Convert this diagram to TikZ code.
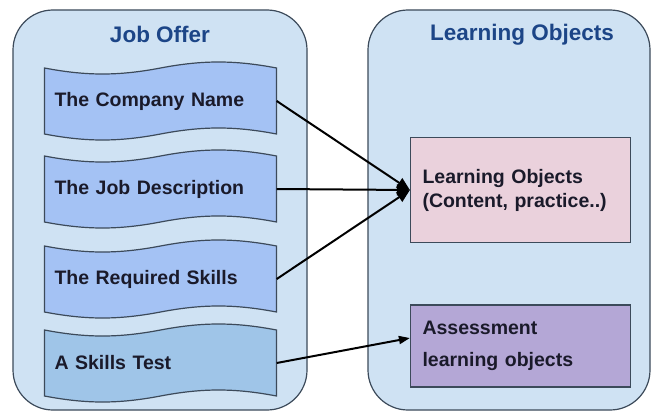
\documentclass[tikz,border=0pt]{standalone}
\usepackage{fontspec}
\setmainfont{Liberation Sans}
\usetikzlibrary{arrows.meta}
\definecolor{contfill}{HTML}{CFE2F3}
\definecolor{contdraw}{HTML}{3C4A5A}
\definecolor{tapeA}{HTML}{A4C2F4}
\definecolor{tapeB}{HTML}{9FC5E8}
\definecolor{titleblue}{HTML}{1C4587}
\definecolor{pinkfill}{HTML}{EAD1DC}
\definecolor{purplefill}{HTML}{B4A7D6}
\definecolor{textdark}{HTML}{1A1A2A}
\newcommand{\tapenode}[5]{%
  \begin{scope}[shift={(#2-116,#3-33)}]
    \filldraw[fill=#4, draw=contdraw, line width=1.2pt]
      (0,0) .. controls (42,8) and (74,8) .. (116,0)
            .. controls (158,-8) and (190,-8) .. (232,0)
      -- (232,66) .. controls (190,58) and (158,58) .. (116,66)
            .. controls (74,74) and (42,74) .. (0,66) -- cycle;
  \end{scope}
  \node[tapetext] (#1) at (#2,#3) {#5};}
\begin{document}
\begin{tikzpicture}[x=1pt,y=-1pt,
  container/.style={draw=contdraw, fill=contfill, line width=1.2pt, rounded corners=40pt},
  titletext/.style={text=titleblue, font=\bfseries\fontsize{22.5}{26}\selectfont, anchor=base},
  tapetext/.style={text=textdark, font=\bfseries\fontsize{19.5}{24}\selectfont, minimum width=232pt, minimum height=66pt, text width=212pt, inner xsep=10pt, align=left},
  lobox/.style={draw=contdraw, line width=1.2pt, text=textdark, minimum width=220pt, text width=196pt, inner xsep=12pt, align=left},
  arr/.style={line width=2pt, -{Triangle[length=13pt,width=11pt]}},
  arrs/.style={line width=2pt, -{Triangle[length=11pt,width=8pt]}}]
\useasboundingbox (0,0) rectangle (652,412);
\fill[white] (0,0) rectangle (652,412);
% containers
\node[container, minimum width=294pt, minimum height=400pt] (jobc) at (160,210) {};
\node[container, minimum width=282pt, minimum height=400pt] (loc) at (509,210) {};
\node[titletext] (jot) at (160,43) {Job Offer};
\node[titletext] (lot) at (522,41) {Learning Objects};
% tapes
\tapenode{cn}{160.5}{101}{tapeA}{The Company Name}
\tapenode{jd}{160.5}{189}{tapeA}{The Job Description}
\tapenode{rs}{160.5}{279}{tapeA}{The Required Skills}
\tapenode{st}{160.5}{363}{tapeB}{A Skills Test}
% right boxes
\node[lobox, fill=pinkfill, minimum height=105pt, font=\bfseries\fontsize{19.5}{24}\selectfont] (lo) at (520.5,190) {Learning Objects\\(Content, practice..)};
\node[lobox, fill=purplefill, minimum height=82pt, font=\bfseries\fontsize{19.5}{32}\selectfont] (ae) at (520.5,346) {Assessment\\learning objects};
% arrows
\draw[arr] (cn.east) -- (lo.west);
\draw[arr] (jd.east) -- (lo.west);
\draw[arr] (rs.east) -- (lo.west);
\draw[arrs] (st.east) -- ([yshift=8pt]ae.west);
\end{tikzpicture}
\end{document}
